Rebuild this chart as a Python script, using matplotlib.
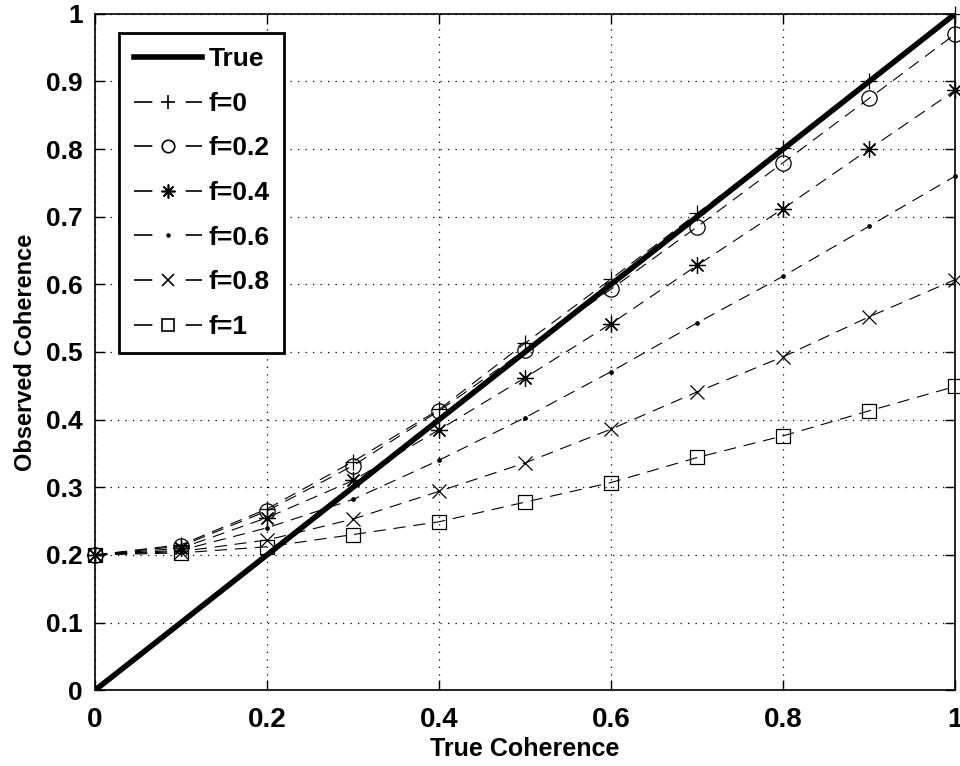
#!/usr/bin/env python3

import matplotlib
matplotlib.use("Agg")
import matplotlib.pyplot as plt
from matplotlib.lines import Line2D

# true coherence values (x axis)
true_coh = [0.0, 0.1, 0.2, 0.3, 0.4, 0.5, 0.6, 0.7, 0.8, 0.9, 1.0]

# observed coherence for each f
obs_f0 = [0.200, 0.215, 0.268, 0.338, 0.415, 0.513, 0.608, 0.705, 0.802, 0.900, 1.000]
obs_f02 = [0.200, 0.213, 0.265, 0.332, 0.413, 0.503, 0.593, 0.685, 0.780, 0.875, 0.970]
obs_f04 = [0.200, 0.210, 0.255, 0.310, 0.385, 0.462, 0.542, 0.628, 0.712, 0.800, 0.887]
obs_f06 = [0.200, 0.207, 0.240, 0.282, 0.340, 0.403, 0.471, 0.543, 0.612, 0.686, 0.760]
obs_f08 = [0.200, 0.205, 0.222, 0.253, 0.294, 0.336, 0.386, 0.441, 0.493, 0.552, 0.607]
obs_f1 = [0.200, 0.203, 0.212, 0.230, 0.249, 0.278, 0.307, 0.344, 0.376, 0.413, 0.449]

labels = ["f=0", "f=0.2", "f=0.4", "f=0.6", "f=0.8", "f=1"]
xticks = [0, 0.2, 0.4, 0.6, 0.8, 1]
xticklabels = ["0", "0.2", "0.4", "0.6", "0.8", "1"]
yticks = [0, 0.1, 0.2, 0.3, 0.4, 0.5, 0.6, 0.7, 0.8, 0.9, 1]
yticklabels = ["0", "0.1", "0.2", "0.3", "0.4", "0.5", "0.6", "0.7", "0.8", "0.9", "1"]

plt.rcParams['font.family'] = ['Liberation Sans', 'DejaVu Sans']
plt.rcParams['font.weight'] = 'bold'


def main():
    fig = plt.figure(figsize=(9.6, 7.66), dpi=100)
    ax = fig.add_axes([0.099, 0.099, 0.896, 0.883])

    ax.plot([0, 1], [0, 1], color="black", lw=4, zorder=5)
    handles = [Line2D([], [], color="black", lw=4, label="True")]

    series = [obs_f0, obs_f02, obs_f04, obs_f06, obs_f08, obs_f1]
    markers = ["+", "o", (8, 2, 0), ".", "x", "s"]
    sizes = [12, 11, 12, 5, 10, 10]
    leg_sizes = [10, 9, 10, 4, 8, 8]
    for ys, lab, m, ms, lms in zip(series, labels, markers, sizes, leg_sizes):
        fc = "black" if m == "." else "none"
        ax.plot(true_coh, ys, color="black", lw=0.8, ls=(0, (11, 7)),
                marker=m, ms=ms, mfc=fc, mec="black", mew=0.9,
                clip_on=False, zorder=4)
        # legend entry drawn MATLAB style: short dash, marker, short dash
        handles.append(Line2D([], [], color="black", lw=1.2, ls=(0, (11, 20)),
                              marker=m, ms=lms, mfc=fc, mec="black", mew=1.2,
                              label=lab))

    ax.set_xlim(0, 1)
    ax.set_ylim(0, 1)
    ax.set_xticks(xticks)
    ax.set_xticklabels(xticklabels)
    ax.set_yticks(yticks)
    ax.set_yticklabels(yticklabels)
    ax.tick_params(direction="in", length=7, width=1, labelsize=19,
                   top=True, right=True)
    ax.tick_params(axis="x", pad=12, labelsize=20)
    ax.tick_params(axis="y", pad=9)
    ax.grid(True, color="black", ls=(0, (1, 5)), lw=0.9)
    for s in ax.spines.values():
        s.set_linewidth(1.2)

    ax.set_xlabel("True Coherence", fontsize=18, fontweight="bold", labelpad=3)
    ax.set_ylabel("Observed Coherence", fontsize=17, fontweight="bold", labelpad=6)

    leg = ax.legend(handles=handles, loc="upper left",
                    bbox_to_anchor=(0.028, 0.972), fontsize=19,
                    frameon=True, fancybox=False, handlelength=2.6,
                    handletextpad=0.25, borderpad=0.55, labelspacing=0.78,
                    borderaxespad=0)
    leg.get_frame().set_edgecolor("black")
    leg.get_frame().set_linewidth(2)
    leg.get_frame().set_alpha(1)

    fig.savefig("out.png", dpi=100)


if __name__ == "__main__":
    main()
